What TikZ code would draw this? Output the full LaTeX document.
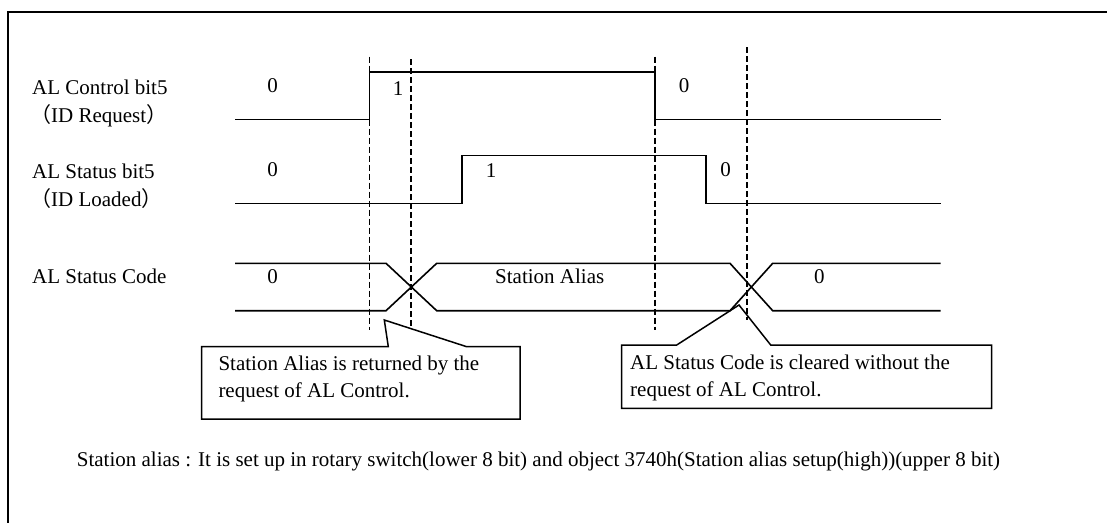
\documentclass[tikz,border=0pt]{standalone}
\usepackage{fontspec}
\setmainfont{Liberation Serif}
\newfontfamily\cjk{Noto Sans CJK SC}
\begin{document}
\begin{tikzpicture}[x=1pt,y=-1pt,
  sig/.style={line width=1.6pt, line join=miter},
  guide/.style={line width=1.6pt, dash pattern=on 6pt off 3pt},
  frameline/.style={line width=2.2pt},
  callout/.style={line width=1.5pt, line join=miter},
  txt/.style={inner sep=0pt, font=\fontsize{21}{25}\selectfont},
  lbl/.style={txt, anchor=base west},
  val/.style={txt, anchor=base}]
\useasboundingbox (0,0) rectangle (1107,522);
\clip (0,0) rectangle (1107,522);
% outer frame (open to the right and bottom)
\draw[frameline] (7.7,530) -- (7.7,11.7) -- (1115,11.7);

% row labels
\node[lbl] (lc)  at (32,94)    {AL Control bit5};
\node[lbl] (lcs) at (30,122)   {{\cjk （}ID Request{\cjk ）}};
\node[lbl] (ls)  at (32,178.3) {AL Status bit5};
\node[lbl] (lss) at (30,206.5) {{\cjk （}ID Loaded{\cjk ）}};
\node[lbl] (lsc) at (32,283.3) {AL Status Code};

% guide lines
\coordinate (g1t) at (369.3,56.7); \coordinate (g1b) at (369.3,330);
\coordinate (g2t) at (411,59.3);   \coordinate (g2b) at (411,328.5);
\coordinate (g3t) at (655,56.7);   \coordinate (g3b) at (655,330);
\coordinate (g4t) at (747,47.3);   \coordinate (g4b) at (747,320);
\draw[guide] (g1t) -- (g1b);
\draw[guide] (g2t) -- (g2b);
\draw[guide] (g3t) -- (g3b);
\draw[guide] (g4t) -- (g4b);

% AL Control bit5
\draw[sig] (235,119.3) -- (369.3,119.3) -- (369.3,71.7) -- (655,71.7) -- (655,119.3) -- (940.7,119.3);
\node[val] (c0a) at (272.7,92) {0};
\node[val] (c1)  at (398,95)   {1};
\node[val] (c0b) at (684,92)   {0};

% AL Status bit5
\draw[sig] (235,203.3) -- (461.7,203.3) -- (461.7,155.3) -- (705.7,155.3) -- (705.7,203.3) -- (940.7,203.3);
\node[val] (s0a) at (272.7,176.3) {0};
\node[val] (s1)  at (491,177)     {1};
\node[val] (s0b) at (725.7,176.3) {0};

% AL Status Code
\draw[sig] (235,263.3) -- (386,263.3) -- (436.7,310.7) -- (730,310.7) -- (772.7,263.3) -- (940.7,263.3);
\draw[sig] (235,310.7) -- (386,310.7) -- (436.7,263.3) -- (730,263.3) -- (772.7,310.7) -- (940.7,310.7);
\node[val] (a0a) at (272.7,283) {0};
\node[lbl] (aal) at (495,283)   {Station Alias};
\node[val] (a0b) at (819.3,283) {0};

% callout 1
\coordinate (t1) at (384.3,320);
\draw[callout] (201.7,346.7) -- (388.3,346.7) -- (t1) -- (466.7,346.7) -- (520,346.7) -- (520,419) -- (201.7,419) -- cycle;
\node[lbl] (n1a) at (218.3,370.5) {Station Alias is returned by the};
\node[lbl] (n1b) at (218.3,397)   {request of AL Control.};

% callout 2
\coordinate (t2) at (739,305);
\draw[callout] (621.7,345) -- (676.7,345) -- (t2) -- (770.7,345) -- (991.7,345) -- (991.7,408.3) -- (621.7,408.3) -- cycle;
\node[lbl] (n2a) at (630,369.5) {AL Status Code is cleared without the};
\node[lbl] (n2b) at (630,396)   {request of AL Control.};

% footnote
\node[lbl] (fn) at (76.7,466.5) {Station alias : It is set up in rotary switch(lower 8 bit) and object 3740h(Station alias setup(high))(upper 8 bit)};
\end{tikzpicture}
\end{document}
